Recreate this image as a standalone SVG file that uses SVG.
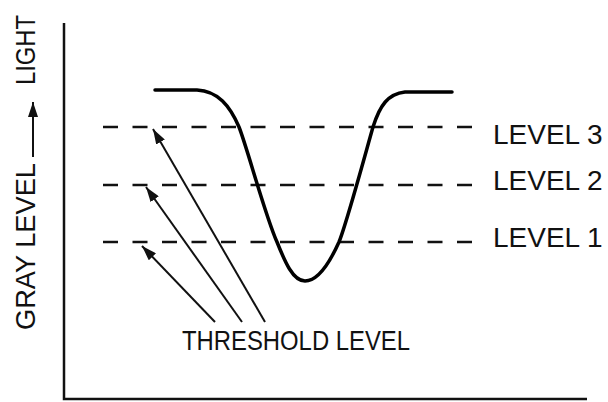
<svg xmlns="http://www.w3.org/2000/svg" width="608" height="402" viewBox="0 0 608 402">
  <style>
    .txt { font-family: "Liberation Sans", Arial, sans-serif; font-size: 28px; fill: #111; }
    .axis { stroke: #111; stroke-width: 2.5; fill: none; }
    .dash { stroke: #111; stroke-width: 2.5; stroke-dasharray: 15 14.5; fill: none; }
    .curve { stroke: #000; stroke-width: 3.5; fill: none; stroke-linecap: round; }
    .arrow { stroke: #111; stroke-width: 2; fill: none; marker-end: url(#head); }
  </style>
  <defs>
    <marker id="head" viewBox="0 0 15 10" refX="15" refY="5" markerUnits="userSpaceOnUse" markerWidth="15" markerHeight="10" orient="auto">
      <path d="M0,0 L15,5 L0,10 z" fill="#111"/>
    </marker>
  </defs>
  <rect width="608" height="402" fill="#fff"/>

  <g id="axes">
    <path class="axis" d="M64,23 L64,399 L587,399"/>
  </g>

  <g id="y-label">
    <text class="txt" transform="translate(35,330) rotate(-90)" textLength="167" lengthAdjust="spacingAndGlyphs">GRAY LEVEL</text>
    <line class="arrow" x1="33" y1="157" x2="33" y2="102"/>
    <text class="txt" transform="translate(35,85) rotate(-90)" textLength="70" lengthAdjust="spacingAndGlyphs">LIGHT</text>
  </g>

  <g id="level3">
    <line class="dash" x1="103" y1="127" x2="475" y2="127"/>
    <text class="txt" x="493" y="144">LEVEL 3</text>
  </g>
  <g id="level2">
    <line class="dash" x1="103" y1="185" x2="475" y2="185"/>
    <text class="txt" x="493" y="190">LEVEL 2</text>
  </g>
  <g id="level1">
    <line class="dash" x1="103" y1="242" x2="475" y2="242"/>
    <text class="txt" x="493" y="247">LEVEL 1</text>
  </g>

  <g id="signal">
    <path class="curve" d="M155,90 L197,90 C218,91 230,106 239,127 C247,147 265,215 277,242 C285,262 293,281 305,281 C318,281 330,262 339,242 C347,222 365,155 373,127 C380,105 388,94 405,92 L452,92"/>
  </g>

  <g id="threshold-label">
    <text class="txt" x="182" y="350" textLength="228" lengthAdjust="spacingAndGlyphs">THRESHOLD LEVEL</text>
  </g>

  <g id="connectors">
    <line class="arrow" x1="215" y1="322" x2="142" y2="246"/>
    <line class="arrow" x1="242" y1="322" x2="146" y2="187"/>
    <line class="arrow" x1="265" y1="322" x2="153" y2="129"/>
  </g>
</svg>
